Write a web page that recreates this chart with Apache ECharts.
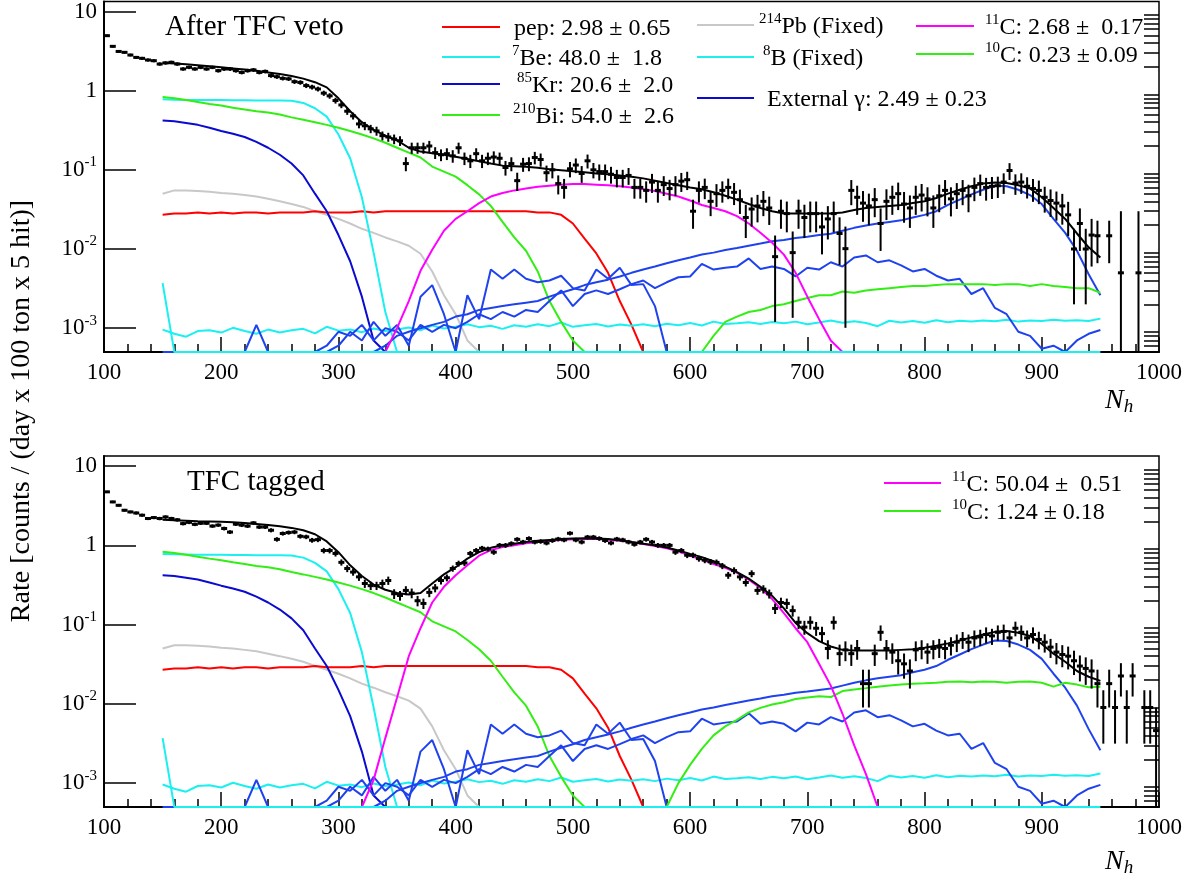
<!DOCTYPE html>
<html>
<head>
<meta charset="utf-8">
<script src="https://cdn.jsdelivr.net/npm/echarts@6/dist/echarts.min.js"></script>
<style>
html, body { margin: 0; padding: 0; background: #fff; }
#chart { width: 1196px; height: 881px; }
</style>
</head>
<body>
<div id="chart"></div>
<script>
// y range of both panels; empty / clamped bins sit on the floor like in ROOT
const FLOOR = 5e-4;
const F = FLOOR;
const Y_MAX = 13.4;
const FONT = 'Liberation Serif';

const yMajorTicks = [0.001, 0.01, 0.1, 1, 10];

// fit components are sampled every 10 hits from 150 to 950
const nhCurve = [];
for (let n = 150; n <= 950; n += 10) nhCurve.push(n);
// data bins are 5 hits wide
const nhBins = [];
for (let i = 0; i < 180; i++) nhBins.push(102.5 + 5 * i);

function nulls(n) { return new Array(n).fill(null); }

// ---- components shared by both panels ----
const pep = [0.027, 0.028, 0.028, 0.029, 0.028, 0.029, 0.028, 0.029, 0.029, 0.028,
  0.029, 0.029, 0.029, 0.030, 0.029, 0.029, 0.029, 0.030, 0.029, 0.030,
  0.030, 0.030, 0.030, 0.030, 0.030, 0.030, 0.030, 0.030, 0.030, 0.030,
  0.030, 0.030, 0.029, 0.029, 0.027, 0.021, 0.0135, 0.0088, 0.005, 0.0022,
  0.0011, F];
const be7 = [0.78, 0.77, 0.765, 0.76, 0.76, 0.76, 0.755, 0.755, 0.75, 0.75,
  0.75, 0.745, 0.70, 0.60, 0.47, 0.28, 0.14, 0.045, 0.009, 0.0016, F];
const kr85 = [0.42, 0.41, 0.39, 0.37, 0.34, 0.31, 0.285, 0.26, 0.225, 0.19,
  0.155, 0.12, 0.085, 0.05, 0.03, 0.015, 0.007, 0.0025, 0.0007, F];
const bi210 = [0.83, 0.8, 0.76, 0.72, 0.68, 0.65, 0.61, 0.58, 0.55, 0.53,
  0.5, 0.46, 0.43, 0.4, 0.37, 0.34, 0.31, 0.28, 0.25, 0.22,
  0.19, 0.165, 0.143, 0.11, 0.095, 0.082, 0.064, 0.049, 0.035, 0.022,
  0.014, 0.0095, 0.0052, 0.0022, 0.0012, 0.0007, F];
const pb214 = [0.05, 0.055, 0.055, 0.054, 0.053, 0.051, 0.05, 0.048, 0.046, 0.043,
  0.04, 0.037, 0.034, 0.03, 0.027, 0.024, 0.021, 0.018, 0.016, 0.014,
  0.0125, 0.011, 0.0087, 0.0052, 0.0026, 0.0015, 0.0007, F];
const b8 = [0.00096, 0.00085, 0.00078, 0.00092, 0.00094, 0.00088, 0.00101, 0.00092, 0.00085, 0.00096,
  0.00088, 0.00094, 0.00098, 0.00086, 0.00104, 0.00093, 0.00096, 0.00089, 0.00099, 0.00092,
  0.00096, 0.00102, 0.00094, 0.00108, 0.00099, 0.00104, 0.00112, 0.00103, 0.00107, 0.00098,
  0.00109, 0.00104, 0.00112, 0.00106, 0.00118, 0.00104, 0.00109, 0.00113, 0.00105, 0.00111,
  0.00107, 0.00112, 0.00106, 0.00114, 0.00109, 0.00116, 0.00108, 0.00121, 0.00113, 0.00115,
  0.00119, 0.00113, 0.0012, 0.00115, 0.00121, 0.00112, 0.00118, 0.00125, 0.00117, 0.00122,
  0.00116, 0.00106, 0.00124, 0.00118, 0.00123, 0.00117, 0.00126, 0.00119, 0.00124, 0.00121,
  0.00125, 0.00122, 0.00128, 0.00121, 0.00125, 0.00123, 0.00128, 0.00124, 0.00126, 0.00123,
  0.00132];
const cyanLow = [0.0037, F, F, F, F, F, F, F, F, F,
  F, F, F, F, F, F, F, F, F, F, F, F, F, F, F, F, F, F, F, F,
  F, F, F, F, F, F, F, F, F, F, F, F, F, F, F, F, F, F, F, F,
  F, F, F, F, F, F, F, F, F, F, F, F, F, F, F, F, F, F, F, F,
  F, F, F, F, F, F, F, F, F, F, F];
const extSmooth = nulls(18).concat([F, 0.0006, 0.0008, 0.0009, 0.001, 0.0011, 0.0012,
  0.0014, 0.0015, 0.0017, 0.0018, 0.0019, 0.002, 0.0021, 0.0022, 0.0025, 0.0028,
  0.0031, 0.0035, 0.0038, 0.0041, 0.0045, 0.005, 0.0055, 0.006, 0.0066, 0.0072,
  0.0078, 0.0085, 0.009, 0.0097, 0.0103, 0.011, 0.0117, 0.0125, 0.013, 0.0138,
  0.0143, 0.015, 0.0156, 0.017, 0.0185, 0.0198, 0.021, 0.022, 0.023, 0.025,
  0.027, 0.03, 0.036, 0.042, 0.049, 0.056, 0.063, 0.062, 0.056, 0.048,
  0.037, 0.024, 0.016, 0.0095, 0.0048, 0.0026]);
const ext2 = [F, F, F, F, F, F, F, F, 0.0011, F,
  F, F, F, F, 0.0006, 0.0009, 0.0008, 0.0011, 0.0007, 0.001,
  0.0009, 0.0007, 0.0011, 0.0009, 0.0011, 0.001, 0.0012, 0.0015, 0.0013, 0.0016,
  0.0014, 0.0017, 0.0016, 0.0022, 0.003, 0.0019, 0.0027, 0.003, 0.0027, 0.0031,
  0.0036, 0.004, 0.0032, 0.0038, 0.0044, 0.0045, 0.0065, 0.0055, 0.0058, 0.006,
  0.0076, 0.0056, 0.006, 0.0056, 0.0045, 0.0058, 0.0055, 0.0068, 0.006, 0.0078,
  0.0083, 0.0068, 0.0072, 0.0062, 0.0052, 0.0056, 0.0046, 0.004, 0.0042, 0.0027,
  0.0032, 0.0018, 0.0015, 0.0009, 0.0008, 0.00055, 0.0006, F, 0.0007, 0.00085,
  0.00095];
const ext3 = nulls(14).concat([F, 0.0006, 0.0009, 0.0007, 0.0012, 0.0008,
  0.0011, 0.0006, 0.0025, 0.0035, 0.0015, F, 0.0026, 0.0013, 0.0055, 0.0042,
  0.0055, 0.0042, 0.0038, 0.004, 0.0046, 0.0032, 0.003, 0.0055, 0.0042, 0.0058,
  0.0035, 0.0036, 0.0019, F]);

// ---- "After TFC veto" panel ----
const topTotal = [2.25, 2.2, 2.15, 2.09, 2.03, 1.97, 1.91, 1.85, 1.78, 1.7,
  1.62, 1.53, 1.42, 1.28, 1.1, 0.8, 0.55, 0.4, 0.32, 0.27,
  0.235, 0.19, 0.17, 0.162, 0.155, 0.146, 0.137, 0.128, 0.12, 0.113,
  0.111, 0.109, 0.106, 0.102, 0.099, 0.096, 0.093, 0.09, 0.088, 0.085,
  0.082, 0.078, 0.073, 0.068, 0.064, 0.06, 0.057, 0.052, 0.047, 0.042,
  0.037, 0.033, 0.03, 0.028, 0.028, 0.028, 0.028, 0.028, 0.029, 0.031,
  0.033, 0.034, 0.035, 0.036, 0.038, 0.04, 0.044, 0.05, 0.056, 0.062,
  0.067, 0.069, 0.068, 0.064, 0.058, 0.045, 0.033, 0.024, 0.0157, 0.0105,
  0.0078];
const top11C = nulls(19).concat([F, 0.001, 0.0022, 0.0053, 0.0098, 0.017,
  0.024, 0.03, 0.038, 0.046, 0.051, 0.055, 0.058, 0.061, 0.063, 0.065, 0.066,
  0.066, 0.065, 0.064, 0.062, 0.06, 0.057, 0.054, 0.05, 0.046, 0.041,
  0.036, 0.033, 0.03, 0.026, 0.021, 0.016, 0.012, 0.0085, 0.005, 0.0025,
  0.0013, 0.0007, F]);
const top10C = nulls(46).concat([F, 0.0008, 0.0012, 0.0014,
  0.0016, 0.0017, 0.0019, 0.002, 0.0022, 0.0024, 0.0026, 0.0026, 0.0029, 0.0028,
  0.003, 0.0031, 0.0032, 0.0033, 0.0034, 0.0034, 0.0035, 0.0036, 0.0036, 0.0036,
  0.0036, 0.0035, 0.0036, 0.0036, 0.0034, 0.0036, 0.0034, 0.0033, 0.0032, 0.0032,
  0.0028]);
const topData = [4.95, 3.63, 3.13, 3.05, 2.82, 2.63, 2.56, 2.44, 2.39, 2.17,
  2.24, 2.28, 2.17, 1.88, 1.97, 1.88, 1.97, 1.88, 1.97, 1.79,
  1.88, 1.88, 1.79, 1.70, 1.79, 1.83, 1.70, 1.75, 1.55, 1.50,
  1.43, 1.41, 1.30, 1.27, 1.16, 1.11, 1.05, 0.93, 0.86, 0.75,
  0.66, 0.55, 0.48, 0.38, 0.36, 0.33, 0.31, 0.27, 0.26, 0.245,
  0.233, 0.12, 0.19, 0.19, 0.19, 0.2, 0.165, 0.155, 0.16, 0.15,
  0.19, 0.14, 0.13, 0.16, 0.13, 0.14, 0.145, 0.14, 0.107, 0.12,
  0.073, 0.118, 0.12, 0.143, 0.135, 0.092, 0.1, 0.067, 0.06, 0.103,
  0.115, 0.09, 0.13, 0.1, 0.095, 0.095, 0.088, 0.08, 0.08, 0.085,
  0.06, 0.06, 0.055, 0.07, 0.055, 0.065, 0.058, 0.065, 0.072, 0.075,
  0.03, 0.055, 0.06, 0.04, 0.05, 0.055, 0.06, 0.052, 0.042, 0.025,
  0.032, 0.035, 0.04, 0.033, 0.008, 0.03, 0.028, 0.009, 0.03, 0.025,
  0.028, 0.028, 0.019, 0.024, 0.028, 0.0157, 0.0101, 0.055, 0.045, 0.038,
  0.035, 0.042, 0.021, 0.04, 0.045, 0.05, 0.037, 0.033, 0.045, 0.048,
  0.043, 0.033, 0.047, 0.055, 0.043, 0.05, 0.055, 0.047, 0.06, 0.067,
  0.06, 0.062, 0.063, 0.07, 0.098, 0.068, 0.07, 0.062, 0.058, 0.055,
  0.045, 0.041, 0.038, 0.035, 0.027, 0.01, 0.021, 0.01, 0.015, 0.0147,
  null, 0.0147, null, 0.005, null, null, 0.005, null, null, null];
// relative errors of the data points
const topErr = [0.03, 0.035, 0.04, 0.04, 0.04, 0.045, 0.045, 0.045, 0.045, 0.05,
  0.05, 0.05, 0.05, 0.05, 0.05, 0.05, 0.05, 0.05, 0.05, 0.055,
  0.055, 0.055, 0.055, 0.055, 0.055, 0.055, 0.055, 0.055, 0.06, 0.06,
  0.06, 0.06, 0.065, 0.065, 0.07, 0.07, 0.07, 0.075, 0.08, 0.085,
  0.09, 0.1, 0.1, 0.12, 0.12, 0.12, 0.13, 0.13, 0.13, 0.14,
  0.14, 0.2, 0.16, 0.16, 0.16, 0.16, 0.17, 0.17, 0.17, 0.18,
  0.16, 0.18, 0.19, 0.17, 0.19, 0.18, 0.18, 0.18, 0.21, 0.2,
  0.26, 0.2, 0.2, 0.18, 0.19, 0.23, 0.22, 0.27, 0.28, 0.22,
  0.21, 0.24, 0.2, 0.22, 0.23, 0.23, 0.24, 0.25, 0.25, 0.24,
  0.28, 0.28, 0.3, 0.27, 0.3, 0.28, 0.29, 0.28, 0.27, 0.26,
  0.4, 0.3, 0.29, 0.35, 0.32, 0.3, 0.29, 0.31, 0.34, 0.45,
  0.4, 0.38, 0.35, 0.39, 0.85, 0.4, 0.42, 0.85, 0.4, 0.45,
  0.42, 0.42, 0.55, 0.45, 0.42, 0.6, 0.9, 0.35, 0.4, 0.42,
  0.43, 0.4, 0.55, 0.42, 0.4, 0.38, 0.42, 0.44, 0.4, 0.38,
  0.4, 0.44, 0.38, 0.35, 0.4, 0.36, 0.35, 0.38, 0.33, 0.3,
  0.32, 0.31, 0.3, 0.29, 0.24, 0.29, 0.29, 0.3, 0.32, 0.33,
  0.36, 0.38, 0.4, 0.42, 0.46, 0.8, 0.55, 0.8, 0.6, 0.55,
  0, 0.55, 0, 5, 0, 0, 5, 0, 0, 0];

// ---- "TFC tagged" panel ----
const botTotal = [2.1, 2.07, 2.05, 2.02, 2.0, 1.98, 1.95, 1.91, 1.86, 1.8,
  1.74, 1.66, 1.55, 1.38, 1.12, 0.82, 0.56, 0.41, 0.32, 0.275,
  0.25, 0.24, 0.25, 0.33, 0.43, 0.53, 0.68, 0.82, 0.93, 1.0,
  1.05, 1.1, 1.14, 1.17, 1.2, 1.22, 1.23, 1.22, 1.2, 1.16,
  1.1, 1.05, 1.0, 0.94, 0.86, 0.78, 0.71, 0.63, 0.54, 0.46,
  0.38, 0.3, 0.23, 0.16, 0.105, 0.078, 0.062, 0.053, 0.048, 0.047,
  0.047, 0.047, 0.047, 0.048, 0.049, 0.051, 0.054, 0.058, 0.063, 0.069,
  0.075, 0.081, 0.083, 0.079, 0.072, 0.057, 0.043, 0.034, 0.026, 0.022,
  0.0195];
const bot11C = nulls(17).concat([F, 0.0011, 0.0037, 0.012, 0.04, 0.09, 0.19, 0.3,
  0.42, 0.56, 0.74, 0.87, 0.95, 1.0, 1.06, 1.1, 1.14, 1.17, 1.19,
  1.2, 1.2, 1.18, 1.14, 1.1, 1.04, 0.98, 0.92, 0.84, 0.74,
  0.66, 0.58, 0.52, 0.45, 0.37, 0.29, 0.21, 0.14, 0.09, 0.06,
  0.032, 0.017, 0.0075, 0.003, 0.0013, F]);
const bot10C = nulls(43).concat([F, 0.001, 0.0017, 0.0027, 0.004, 0.0052, 0.0063,
  0.0078, 0.0089, 0.0098, 0.0105, 0.0115, 0.012, 0.0125, 0.0122, 0.0145, 0.0152,
  0.0158, 0.0165, 0.017, 0.0175, 0.018, 0.0182, 0.0185, 0.019, 0.0192, 0.0188,
  0.0192, 0.019, 0.0185, 0.019, 0.0192, 0.0185, 0.0165, 0.0185, 0.0175, 0.0162,
  0.0165]);
const botData = [4.73, 3.53, 3.2, 2.77, 2.64, 2.56, 2.4, 2.18, 2.24, 2.18,
  2.28, 2.18, 2.1, 1.88, 1.95, 1.84, 1.9, 1.9, 1.75, 1.8,
  1.63, 1.47, 1.85, 1.8, 1.75, 1.92, 1.7, 1.7, 1.55, 1.19,
  1.41, 1.45, 1.47, 1.3, 1.28, 1.16, 1.18, 0.86, 0.86, 0.79,
  0.61, 0.51, 0.46, 0.4, 0.33, 0.31, 0.31, 0.33, 0.36, 0.245,
  0.233, 0.27, 0.25, 0.2, 0.185, 0.255, 0.29, 0.36, 0.39, 0.51,
  0.59, 0.6, 0.79, 0.86, 0.92, 0.9, 0.82, 1.0, 1.0, 1.05,
  1.19, 1.1, 1.22, 1.1, 1.12, 1.07, 1.15, 1.2, 1.17, 1.42,
  1.17, 1.1, 1.27, 1.27, 1.22, 1.15, 1.07, 1.2, 1.17, 1.1,
  1.03, 1.1, 1.19, 1.1, 1.0, 1.0, 1.0, 0.82, 0.86, 0.75,
  0.75, 0.68, 0.65, 0.62, 0.61, 0.55, 0.42, 0.48, 0.4, 0.34,
  0.44, 0.27, 0.28, 0.245, 0.16, 0.19, 0.185, 0.15, 0.107, 0.093,
  0.107, 0.09, 0.077, 0.05, 0.107, 0.043, 0.048, 0.043, 0.05, 0.018,
  0.018, 0.043, 0.08, 0.05, 0.045, 0.035, 0.032, 0.026, 0.048, 0.05,
  0.045, 0.05, 0.052, 0.05, 0.055, 0.06, 0.065, 0.06, 0.068, 0.07,
  0.075, 0.072, 0.08, 0.082, 0.068, 0.09, 0.08, 0.068, 0.075, 0.065,
  0.06, 0.052, 0.045, 0.042, 0.04, 0.035, 0.03, 0.028, 0.026, 0.018,
  0.009, 0.018, 0.009, 0.0225, 0.009, 0.0225, null, 0.009, 0.009, 0.0046];
const botErr = [0.03, 0.035, 0.04, 0.04, 0.04, 0.045, 0.045, 0.045, 0.045, 0.05,
  0.05, 0.05, 0.05, 0.05, 0.05, 0.05, 0.05, 0.05, 0.05, 0.05,
  0.055, 0.055, 0.05, 0.055, 0.055, 0.05, 0.055, 0.055, 0.06, 0.065,
  0.06, 0.06, 0.06, 0.065, 0.065, 0.07, 0.07, 0.08, 0.08, 0.085,
  0.09, 0.1, 0.1, 0.11, 0.12, 0.12, 0.12, 0.12, 0.12, 0.14,
  0.14, 0.13, 0.14, 0.15, 0.15, 0.13, 0.12, 0.11, 0.1, 0.09,
  0.085, 0.085, 0.075, 0.075, 0.07, 0.07, 0.075, 0.07, 0.07, 0.07,
  0.065, 0.065, 0.065, 0.065, 0.065, 0.065, 0.065, 0.065, 0.065, 0.06,
  0.065, 0.065, 0.065, 0.065, 0.065, 0.065, 0.065, 0.065, 0.065, 0.065,
  0.065, 0.065, 0.065, 0.065, 0.07, 0.07, 0.07, 0.075, 0.075, 0.08,
  0.08, 0.085, 0.085, 0.085, 0.085, 0.09, 0.1, 0.1, 0.1, 0.11,
  0.1, 0.12, 0.12, 0.13, 0.15, 0.15, 0.15, 0.16, 0.18, 0.2,
  0.19, 0.2, 0.22, 0.27, 0.19, 0.3, 0.28, 0.3, 0.28, 0.5,
  0.5, 0.3, 0.22, 0.28, 0.29, 0.33, 0.35, 0.4, 0.28, 0.27,
  0.29, 0.27, 0.27, 0.27, 0.26, 0.25, 0.24, 0.25, 0.24, 0.23,
  0.23, 0.23, 0.22, 0.22, 0.24, 0.21, 0.22, 0.24, 0.23, 0.25,
  0.26, 0.27, 0.3, 0.31, 0.32, 0.34, 0.36, 0.38, 0.4, 0.5,
  0.65, 0.5, 0.65, 0.45, 0.65, 0.45, 0, 0.65, 0.65, 0.95];

const C_RED = '#ff0000', C_CYAN = '#1af0f0', C_KR = '#0a0ad0', C_EXT = '#1f42ef',
  C_GREEN = '#33ee14', C_GRAY = '#c8c8c8', C_MAG = '#ff00ff';

const chart = echarts.init(document.getElementById('chart'));

function curve(vals, color, g) {
  const pts = [];
  vals.forEach(function (v, k) { if (v != null) pts.push([nhCurve[k], v]); });
  return {
    type: 'line', xAxisIndex: g, yAxisIndex: g * 2, data: pts, symbol: 'none',
    showSymbol: false, clip: false, silent: true, z: 2,
    lineStyle: { color: color, width: 2 }
  };
}

function points(vals, errs, g) {
  const d = [];
  vals.forEach(function (v, i) { if (v != null) d.push([nhBins[i], v, errs[i]]); });
  return {
    type: 'custom', xAxisIndex: g, yAxisIndex: g * 2, data: d, z: 4, silent: true,
    renderItem: function (params, api) {
      const x = api.value(0), v = api.value(1), e = api.value(2);
      const lo = Math.max(v * (1 - e), FLOOR), hi = Math.min(v * (1 + e), Y_MAX);
      const p = api.coord([x, v]), a = api.coord([x, hi]), b = api.coord([x, lo]);
      return {
        type: 'group', children: [
          { type: 'line', shape: { x1: p[0], y1: a[1], x2: p[0], y2: b[1] }, style: { stroke: '#000', lineWidth: 2 } },
          { type: 'rect', shape: { x: p[0] - 3, y: p[1] - 1.5, width: 6, height: 3 }, style: { fill: '#000' } }
        ]
      };
    }
  };
}

function panelSeries(g, total, c11, c10, data, err) {
  return [
    curve(pb214, C_GRAY, g),
    curve(pep, C_RED, g),
    curve(b8, C_CYAN, g),
    curve(be7, C_CYAN, g),
    curve(kr85, C_KR, g),
    curve(bi210, C_GREEN, g),
    curve(ext2, C_EXT, g),
    curve(ext3, C_EXT, g),
    curve(extSmooth, C_EXT, g),
    curve(c10, C_GREEN, g),
    curve(c11, C_MAG, g),
    curve(total, '#000', g),
    curve(cyanLow, C_CYAN, g),
    points(data, err, g)
  ];
}

const minorY = [];
[-4, -3, -2, -1, 0].forEach(function (e) {
  for (let m = 2; m <= 9; m++) {
    const v = m * Math.pow(10, e);
    if (v >= FLOOR && v <= Y_MAX) minorY.push(v);
  }
});

const labelRich = {
  b: { fontFamily: FONT, fontSize: 23, color: '#000', lineHeight: 30 },
  s: { fontFamily: FONT, fontSize: 15, color: '#000', verticalAlign: 'top', lineHeight: 15 }
};

function yLabel(v) {
  const e = Math.round(Math.log10(v));
  if (e === 0) return '{b|1}';
  if (e === 1) return '{b|10}';
  return '{b|10}{s|' + e + '}';
}

function xAxisFor(g) {
  return {
    type: 'value', gridIndex: g, min: 100, max: 1000, interval: 100,
    axisLine: { show: true, onZero: false, lineStyle: { color: '#000', width: 2 } },
    axisTick: { show: true, inside: true, length: 15, lineStyle: { color: '#000', width: 1.5 } },
    minorTick: { show: true, splitNumber: 5, length: 8, lineStyle: { color: '#000', width: 1.5 } },
    axisLabel: { margin: 9, color: '#000', fontFamily: FONT, fontSize: 23, formatter: function (v) { return String(v); } },
    splitLine: { show: false }
  };
}

function yAxesFor(g) {
  return [{
    type: 'log', logBase: 10, gridIndex: g, min: FLOOR, max: Y_MAX,
    axisLine: { show: true, lineStyle: { color: '#000', width: 2 } },
    axisTick: { show: true, inside: true, length: 32, customValues: yMajorTicks, lineStyle: { color: '#000', width: 1.5 } },
    axisLabel: { margin: 7, customValues: yMajorTicks, formatter: yLabel, rich: labelRich },
    splitLine: { show: false }
  }, {
    type: 'log', logBase: 10, gridIndex: g, min: FLOOR, max: Y_MAX,
    axisLine: { show: false },
    axisTick: { show: true, inside: true, length: 15, customValues: minorY, lineStyle: { color: '#000', width: 1.5 } },
    axisLabel: { show: false },
    splitLine: { show: false }
  }];
}

// legend: [x1, x2, y, colour, text, textX]
const topLegend = [
  [442, 500, 27, C_RED, '{n|pep: 2.98 ± 0.65}', 514],
  [442, 500, 57, C_CYAN, '{s|7}{n|Be: 48.0 ±  1.8}', 512],
  [442, 500, 84, C_KR, '{s|85}{n|Kr: 20.6 ±  2.0}', 517],
  [442, 500, 115, C_GREEN, '{s|210}{n|Bi: 54.0 ±  2.6}', 513],
  [697, 754, 25, C_GRAY, '{s|214}{n|Pb (Fixed)}', 759],
  [697, 754, 57, C_CYAN, '{s|8}{n|B (Fixed)}', 763],
  [697, 754, 98, C_KR, '{n|External γ: 2.49 ± 0.23}', 767],
  [916, 974, 26, C_MAG, '{s|11}{n|C: 2.68 ±  0.17}', 985],
  [916, 974, 54, C_GREEN, '{s|10}{n|C: 0.23 ± 0.09}', 985]
];
const botLegend = [
  [884, 941, 483, C_MAG, '{s|11}{n|C: 50.04 ±  0.51}', 952],
  [884, 941, 511, C_GREEN, '{s|10}{n|C: 1.24 ± 0.18}', 952]
];

const legendRich = {
  n: { fontFamily: FONT, fontSize: 24, fill: '#000', lineHeight: 30 },
  s: { fontFamily: FONT, fontSize: 15, fill: '#000', verticalAlign: 'top', lineHeight: 15 }
};

const graphics = [];
topLegend.concat(botLegend).forEach(function (r) {
  graphics.push({ type: 'line', shape: { x1: r[0], y1: r[2], x2: r[1], y2: r[2] }, style: { stroke: r[3], lineWidth: 2 }, silent: true });
  graphics.push({ type: 'text', x: r[5], y: r[2] + 2, silent: true,
    style: { text: r[4], rich: legendRich, textAlign: 'left', textVerticalAlign: 'middle' } });
});
graphics.push({ type: 'text', x: 165, y: 27, silent: true,
  style: { text: 'After TFC veto', fontFamily: FONT, fontSize: 29, fill: '#000', textVerticalAlign: 'middle' } });
graphics.push({ type: 'text', x: 187, y: 482, silent: true,
  style: { text: 'TFC tagged', fontFamily: FONT, fontSize: 29, fill: '#000', textVerticalAlign: 'middle' } });
graphics.push({ type: 'text', x: 22, y: 411, rotation: Math.PI / 2, silent: true,
  style: { text: 'Rate [counts / (day x 100 ton x 5 hit)]', fontFamily: FONT, fontSize: 28, fill: '#000',
    textAlign: 'center', textVerticalAlign: 'middle' } });
const nhRich = {
  n: { fontFamily: FONT, fontStyle: 'italic', fontSize: 28, fill: '#000', lineHeight: 30 },
  h: { fontFamily: FONT, fontStyle: 'italic', fontSize: 19, fill: '#000', verticalAlign: 'bottom', lineHeight: 19 }
};
[401, 862].forEach(function (y) {
  graphics.push({ type: 'text', x: 1105, y: y, silent: true,
    style: { text: '{n|N}{h|h}', rich: nhRich, textVerticalAlign: 'middle' } });
});

chart.setOption({
  animation: false,
  backgroundColor: '#fff',
  grid: [
    { left: 104, top: 1, width: 1055, height: 351, show: true, borderColor: '#000', borderWidth: 1.5, backgroundColor: 'transparent' },
    { left: 104, top: 456, width: 1055, height: 351, show: true, borderColor: '#000', borderWidth: 1.5, backgroundColor: 'transparent' }
  ],
  xAxis: [xAxisFor(0), xAxisFor(1)],
  yAxis: yAxesFor(0).concat(yAxesFor(1)),
  series: panelSeries(0, topTotal, top11C, top10C, topData, topErr)
    .concat(panelSeries(1, botTotal, bot11C, bot10C, botData, botErr)),
  graphic: graphics
});
</script>
</body>
</html>
